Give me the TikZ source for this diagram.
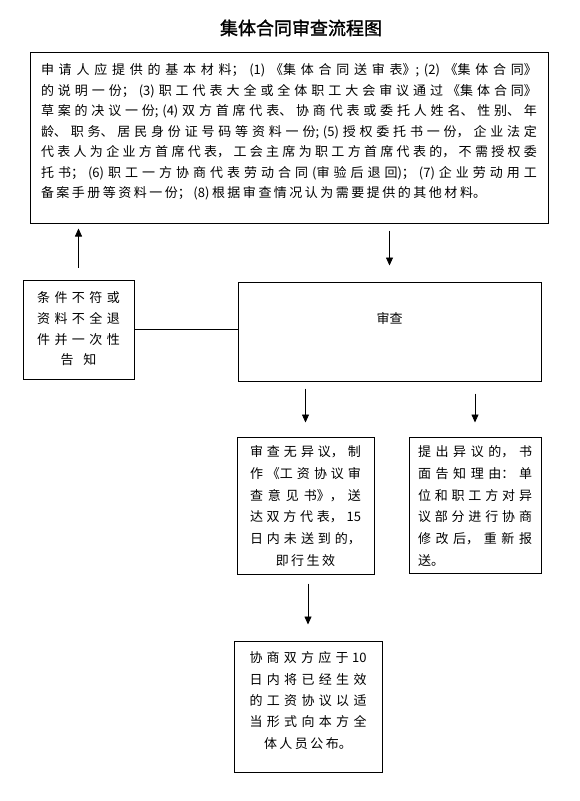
\documentclass[tikz,border=0pt]{standalone}
\usepackage{fontspec}
\usetikzlibrary{arrows.meta}

\newfontfamily\cjk{Noto Sans CJK SC}
\newfontfamily\cjktitle[AutoFakeBold=1.5]{Noto Sans CJK SC}
\XeTeXlinebreaklocale "zh"
\XeTeXlinebreakskip = 2.5pt plus 6pt minus 0.5pt

\begin{document}
\begin{tikzpicture}[x=1pt, y=-1pt,
    box/.style={draw, line width=1pt, inner xsep=1pt, inner ysep=0pt, text height=4.9pt},
    body/.style={font=\cjk\fontsize{13}{#1}\selectfont},
    arr/.style={-{Triangle[width=7pt,length=8pt]}, line width=0.8pt}]

    \useasboundingbox (0,0) rectangle (579,801);

    % title
    \node[font=\cjktitle\fontsize{18}{18}\selectfont\bfseries, anchor=base] (title) at (301,34.8) {集体合同审查流程图};

    % boxes
    \node[box, body=20.5pt, minimum width=518pt, minimum height=171pt, text width=496pt, align=justify, text depth=130.1pt] (materials) at (289,137.5)
        {申请人应提供的基本材料；(1)《集体合同送审表》;(2)《集体合同》\linebreak
         的说明一份；(3)职工代表大全或全体职工大会审议通过《集体合同》\linebreak
         草案的决议一份;(4)双方首席代表、协商代表或委托人姓名、性别、年\linebreak
         龄、职务、居民身份证号码等资料一份;(5)授权委托书一份，企业法定\linebreak
         代表人为企业方首席代表，工会主席为职工方首席代表的，不需授权委\linebreak
         托书；(6)职工一方协商代表劳动合同(审验后退回)；(7)企业劳动用工\linebreak
         备案手册等资料一份；(8)根据审查情况认为需要提供的其他材料。};
    \node[box, body=20.7pt, minimum width=111pt, minimum height=99pt, text width=100pt, align=center, text depth=58.2pt] (reject) at (78.5,329.5)
        {条件不符或\\资料不全退\\件并一次性\\告知};
    \node[box, body=20pt, minimum width=303pt, minimum height=99pt, text depth=20.1pt] (review) at (389.5,331.5) {审查};
    \node[box, body=21.7pt, minimum width=137pt, minimum height=137pt, text width=111pt, align=justify, text depth=102.6pt] (approve) at (305.5,505.5)
        {{\parfillskip=0pt 审查无异议，制\linebreak 作《工资协议审\linebreak 查意见书》，送\linebreak 达双方代表，15\linebreak 日内未送到的，\par}%
         {\centering 即行生效\par}};
    \node[box, body=21.7pt, minimum width=132pt, minimum height=136pt, text width=114pt, align=justify, text depth=101.6pt] (objection) at (475,505)
        {提出异议的，书\linebreak 面告知理由：单\linebreak 位和职工方对异\linebreak 议部分进行协商\linebreak 修改后，重新报\linebreak 送。};
    \node[box, body=21.3pt, minimum width=148pt, minimum height=131pt, text width=117pt, align=justify, text depth=92.3pt] (publish) at (308,706.5)
        {{\parfillskip=0pt 协商双方应于 10\linebreak 日内将已经生效\linebreak 的工资协议以适\linebreak 当形式向本方全\par}%
         {\centering 体人员公布。\par}};

    % connectors
    \draw[arr, shorten <=7pt, shorten >=16pt] (review.north |- materials.south) -- (review.north);
    \draw[arr, shorten <=12pt, shorten >=5pt] (reject.north) -- (reject.north |- materials.south);
    \draw[line width=1pt] (reject.east) -- (reject.east -| review.west);
    \draw[arr, shorten <=7pt, shorten >=14pt] (approve.north |- review.south) -- (approve.north);
    \draw[arr, shorten <=12pt, shorten >=14pt] (objection.north |- review.south) -- (objection.north);
    \draw[arr, shorten <=9pt, shorten >=16pt] (approve.south -| publish.north) -- (publish.north);
\end{tikzpicture}
\end{document}
